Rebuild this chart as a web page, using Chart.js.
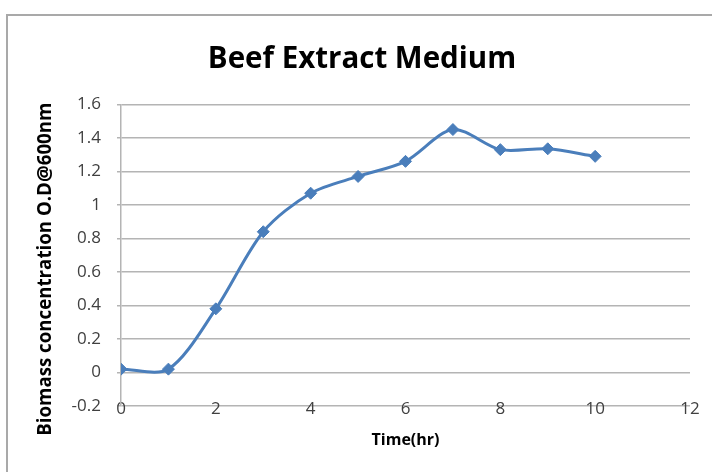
<!DOCTYPE html>
<html>
<head>
<meta charset="utf-8">
<script src="https://cdn.jsdelivr.net/npm/chart.js@4/dist/chart.umd.min.js"></script>
<style>
  html, body { margin: 0; padding: 0; background: #ffffff; overflow: hidden; }
  #wrap { position: relative; width: 712px; height: 472px; }
  #frame { position: absolute; left: 6px; top: 14px; width: 760px; height: 520px;
           border: 2px solid #a9a9a9; box-sizing: border-box; }
  canvas { position: absolute; left: 0; top: 0; }
</style>
</head>
<body>
<div id="wrap">
  <div id="frame"></div>
  <canvas id="c" width="712" height="472"></canvas>
</div>
<script>
// Growth curve: optical density at 600 nm against incubation time
const timeHours = [0, 1, 2, 3, 4, 5, 6, 7, 8, 9, 10];
const opticalDensity = [0.02, 0.02, 0.38, 0.84, 1.07, 1.17, 1.26, 1.45, 1.33, 1.335, 1.29];
const xTicks = [0, 2, 4, 6, 8, 10, 12];
const yTicks = [-0.2, 0, 0.2, 0.4, 0.6, 0.8, 1, 1.2, 1.4, 1.6];
const yAxisTitle = 'Biomass concentration O.D@600nm';

const points = timeHours.map((t, i) => ({ x: t, y: opticalDensity[i] }));
const gridColor = '#b4b4b4';
const tickColor = '#404040';
const bodyFont = 'Open Sans';

// Vertical axis title, set a little below the middle of the plot area
const yTitlePlugin = {
  id: 'yTitle',
  afterDraw(chart) {
    const ctx = chart.ctx;
    const area = chart.chartArea;
    ctx.save();
    ctx.translate(46, (area.top + area.bottom) / 2 + 14);
    ctx.rotate(-Math.PI / 2);
    ctx.font = 'bold 18.7px "' + bodyFont + '"';
    ctx.fillStyle = '#000000';
    ctx.textAlign = 'center';
    ctx.textBaseline = 'middle';
    ctx.fillText(yAxisTitle, 0, 0);
    ctx.restore();
  }
};

new Chart(document.getElementById('c'), {
  type: 'line',
  data: {
    datasets: [{
      data: points,
      borderColor: '#4a7ebb',
      backgroundColor: '#4a7ebb',
      borderWidth: 3,
      tension: 0.3,
      pointStyle: 'rectRot',
      pointRadius: 6,
      pointHoverRadius: 6,
      pointBorderWidth: 1,
      fill: false
    }]
  },
  plugins: [yTitlePlugin],
  options: {
    responsive: false,
    animation: false,
    events: [],
    layout: { padding: { left: 34, right: 22, top: 0, bottom: 0 } },
    plugins: {
      legend: { display: false },
      tooltip: { enabled: false },
      title: {
        display: true,
        text: 'Beef Extract Medium',
        color: '#000000',
        font: { family: bodyFont, size: 29.5, weight: 'bold' },
        padding: { top: 42, bottom: 27 }
      }
    },
    scales: {
      x: {
        type: 'linear',
        min: 0,
        max: 12,
        afterBuildTicks: s => { s.ticks = xTicks.map(v => ({ value: v })); },
        afterFit: s => { s.height = 66; s.paddingRight = 0; s.paddingLeft = 0; },
        grid: { display: false, drawTicks: false },
        border: { display: false },
        ticks: {
          color: tickColor,
          font: { family: bodyFont, size: 17 },
          // labels sit centred on the lowest gridline
          mirror: true,
          padding: -13,
          maxRotation: 0
        },
        title: {
          display: true,
          text: 'Time(hr)',
          color: '#000000',
          font: { family: bodyFont, size: 16, weight: 'bold' },
          padding: { top: 0, bottom: 22 }
        }
      },
      y: {
        min: -0.2,
        max: 1.6,
        afterBuildTicks: s => { s.ticks = yTicks.map(v => ({ value: v })); },
        afterFit: s => { s.width = 121 - 34; },
        grid: {
          color: gridColor,
          lineWidth: 1.5,
          drawTicks: true,
          tickLength: 4,
          tickColor: gridColor
        },
        border: { display: true, color: gridColor, width: 1.5 },
        ticks: {
          color: tickColor,
          font: { family: bodyFont, size: 17 },
          padding: 16,
          callback: v => String(Math.round(v * 10) / 10)
        }
      }
    }
  }
});
</script>
</body>
</html>
